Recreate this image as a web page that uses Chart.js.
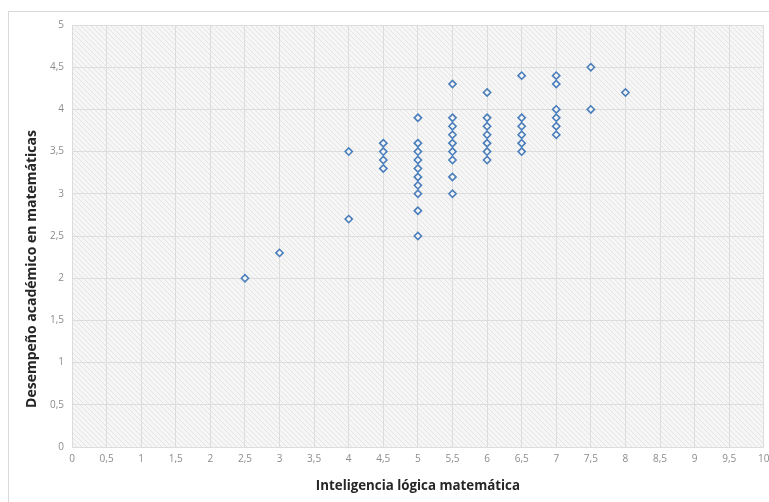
<!DOCTYPE html>
<html>
<head>
<meta charset="utf-8">
<script src="https://cdn.jsdelivr.net/npm/chart.js@4.4.0/dist/chart.umd.min.js"></script>
<style>
  html, body { margin: 0; padding: 0; background: #fff; overflow: hidden; }
  #frame { position: absolute; left: 8px; top: 11px; width: 800px; height: 540px; border: 1px solid #d9d9d9; }
  #wrap { position: absolute; left: 0; top: 0; width: 769px; height: 502px; }
</style>
</head>
<body>
<div id="frame"></div>
<div id="wrap"><canvas id="chart"></canvas></div>
<script>
// Inteligencia lógica vs desempeño académico (scatter)

const xValues = [2.5, 3, 4, 4,
  4.5, 4.5, 4.5, 4.5,
  5, 5, 5, 5, 5, 5, 5, 5, 5, 5,
  5.5, 5.5, 5.5, 5.5, 5.5, 5.5, 5.5, 5.5, 5.5,
  6, 6, 6, 6, 6, 6, 6,
  6.5, 6.5, 6.5, 6.5, 6.5, 6.5,
  7, 7, 7, 7, 7, 7,
  7.5, 7.5, 8];
const yValues = [2.0, 2.3, 3.5, 2.7,
  3.6, 3.5, 3.4, 3.3,
  3.9, 3.6, 3.5, 3.4, 3.3, 3.2, 3.1, 3.0, 2.8, 2.5,
  4.3, 3.9, 3.8, 3.7, 3.6, 3.5, 3.4, 3.2, 3.0,
  4.2, 3.9, 3.8, 3.7, 3.6, 3.5, 3.4,
  4.4, 3.9, 3.8, 3.7, 3.6, 3.5,
  4.4, 4.3, 4.0, 3.9, 3.8, 3.7,
  4.5, 4.0, 4.2];
const xTitle = 'Inteligencia lógica matemática';
const yTitle = 'Desempeño académico en matemáticas';

const points = xValues.map((x, i) => ({ x: x, y: yValues[i] }));

// hatched plot background like the Excel pattern fill
function makeHatch() {
  const c = document.createElement('canvas');
  c.width = 5; c.height = 5;
  const g = c.getContext('2d');
  g.fillStyle = '#f6f6f6';
  g.fillRect(0, 0, 5, 5);
  g.strokeStyle = '#e4e4e4';
  g.lineWidth = 1;
  g.beginPath();
  g.moveTo(-1, -1); g.lineTo(6, 6);
  g.stroke();
  return g.createPattern(c, 'repeat');
}

const hatchBg = {
  id: 'hatchBg',
  beforeDraw(chart) {
    const { ctx, chartArea: a } = chart;
    ctx.save();
    ctx.fillStyle = makeHatch();
    ctx.fillRect(a.left, a.top, a.right - a.left, a.bottom - a.top);
    ctx.restore();
  }
};

// y title sits a bit below the middle of the axis in the original
const yTitleDraw = {
  id: 'yTitleDraw',
  afterDraw(chart) {
    const ctx = chart.ctx;
    ctx.save();
    ctx.translate(32, 269);
    ctx.rotate(-Math.PI / 2);
    ctx.font = 'bold 14px "Open Sans"';
    ctx.fillStyle = '#262626';
    ctx.textAlign = 'center';
    ctx.textBaseline = 'middle';
    ctx.fillText(yTitle, 0, 0);
    ctx.restore();
  }
};

const commaFmt = v => String(v).replace('.', ',');

new Chart(document.getElementById('chart'), {
  type: 'scatter',
  data: {
    datasets: [{
      data: points,
      pointStyle: 'rectRot',
      pointRadius: 3.6,
      pointHoverRadius: 3.6,
      pointBorderWidth: 1.6,
      borderColor: '#4a7ebb',
      backgroundColor: 'rgba(255,255,255,0.6)'
    }]
  },
  options: {
    responsive: true,
    maintainAspectRatio: false,
    animation: false,
    layout: { padding: { top: 25, right: 5, left: 0, bottom: 0 } },
    plugins: { legend: { display: false }, tooltip: { enabled: false } },
    scales: {
      x: {
        type: 'linear',
        min: 0, max: 10,
        ticks: { stepSize: 0.5, color: '#8c8c8c', font: { family: 'Open Sans', size: 10 }, padding: 6, callback: commaFmt, maxRotation: 0, autoSkip: false },
        grid: { color: '#dcdcdc', drawTicks: false },
        border: { display: false },
        title: { display: true, text: xTitle, color: '#262626', font: { family: 'Open Sans', size: 13.3, weight: 'bold' }, padding: { top: 0, bottom: 8 } },
        afterFit(s) { s.height = 55; s.paddingRight = 0; s.paddingLeft = 0; }
      },
      y: {
        type: 'linear',
        min: 0, max: 5,
        ticks: { stepSize: 0.5, color: '#8c8c8c', font: { family: 'Open Sans', size: 10 }, padding: 8, callback: commaFmt },
        grid: { color: '#dcdcdc', drawTicks: false },
        border: { display: false },
        title: { display: false },
        afterFit(s) { s.width = 72; s.paddingTop = 0; s.paddingBottom = 0; }
      }
    }
  },
  plugins: [hatchBg, yTitleDraw]
});
</script>
</body>
</html>
